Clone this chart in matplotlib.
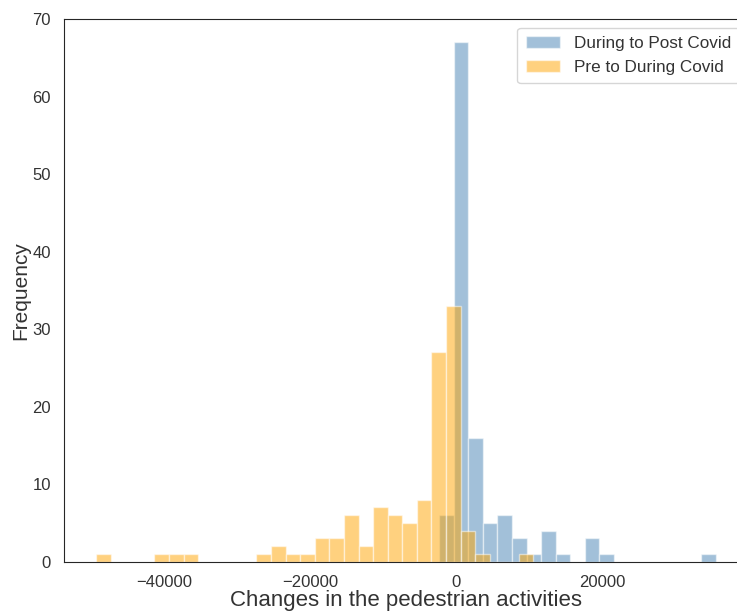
import numpy as np
import matplotlib
matplotlib.use('Agg')
import matplotlib.pyplot as plt
import seaborn as sns

# Histogram counts (bin width ~2000 people)
bin_width = 1995

# During to Post Covid: 19 bins starting at about -2370
post_start = -2370
post_counts = [6, 67, 16, 5, 6, 3, 1, 4, 1, 0, 3, 1, 0, 0, 0, 0, 0, 0, 1]

# Pre to During Covid: 30 bins starting at about -49300
pre_start = -49300
pre_counts = [1, 0, 0, 0, 1, 1, 1, 0, 0, 0,
              0, 1, 2, 1, 1, 3, 3, 6, 2, 7,
              6, 5, 8, 27, 33, 4, 1, 0, 0, 1]

labels = ['During to Post Covid', 'Pre to During Covid']

sns.set_style('white')
plt.rcParams['font.family'] = ['Liberation Sans', 'DejaVu Sans']

fig = plt.figure(figsize=(7.37, 6.11), dpi=100)
ax = fig.add_axes([0.0868, 0.0807, 0.928, 0.888])

post_left = post_start + bin_width * np.arange(len(post_counts))
pre_left = pre_start + bin_width * np.arange(len(pre_counts))

ax.bar(post_left, post_counts, width=bin_width, align='edge',
       color='steelblue', alpha=0.5, edgecolor='white', linewidth=1,
       label=labels[0])
ax.bar(pre_left, pre_counts, width=bin_width, align='edge',
       color='orange', alpha=0.5, edgecolor='white', linewidth=1,
       label=labels[1])

ax.set_xlim(-53700, 39900)
ax.set_ylim(0, 70)
ax.set_xticks([-40000, -20000, 0, 20000])
ax.tick_params(labelsize=12, pad=6, labelcolor='#333333')

ax.set_xlabel('Changes in the pedestrian activities', fontsize=16,
              labelpad=0, color='#333333')
ax.set_ylabel('Frequency', fontsize=15, labelpad=1.5, color='#333333')
ax.legend(loc='upper right', fontsize=12.3, labelcolor='#333333',
          borderpad=0.5)

fig.savefig('out.png', dpi=100)
